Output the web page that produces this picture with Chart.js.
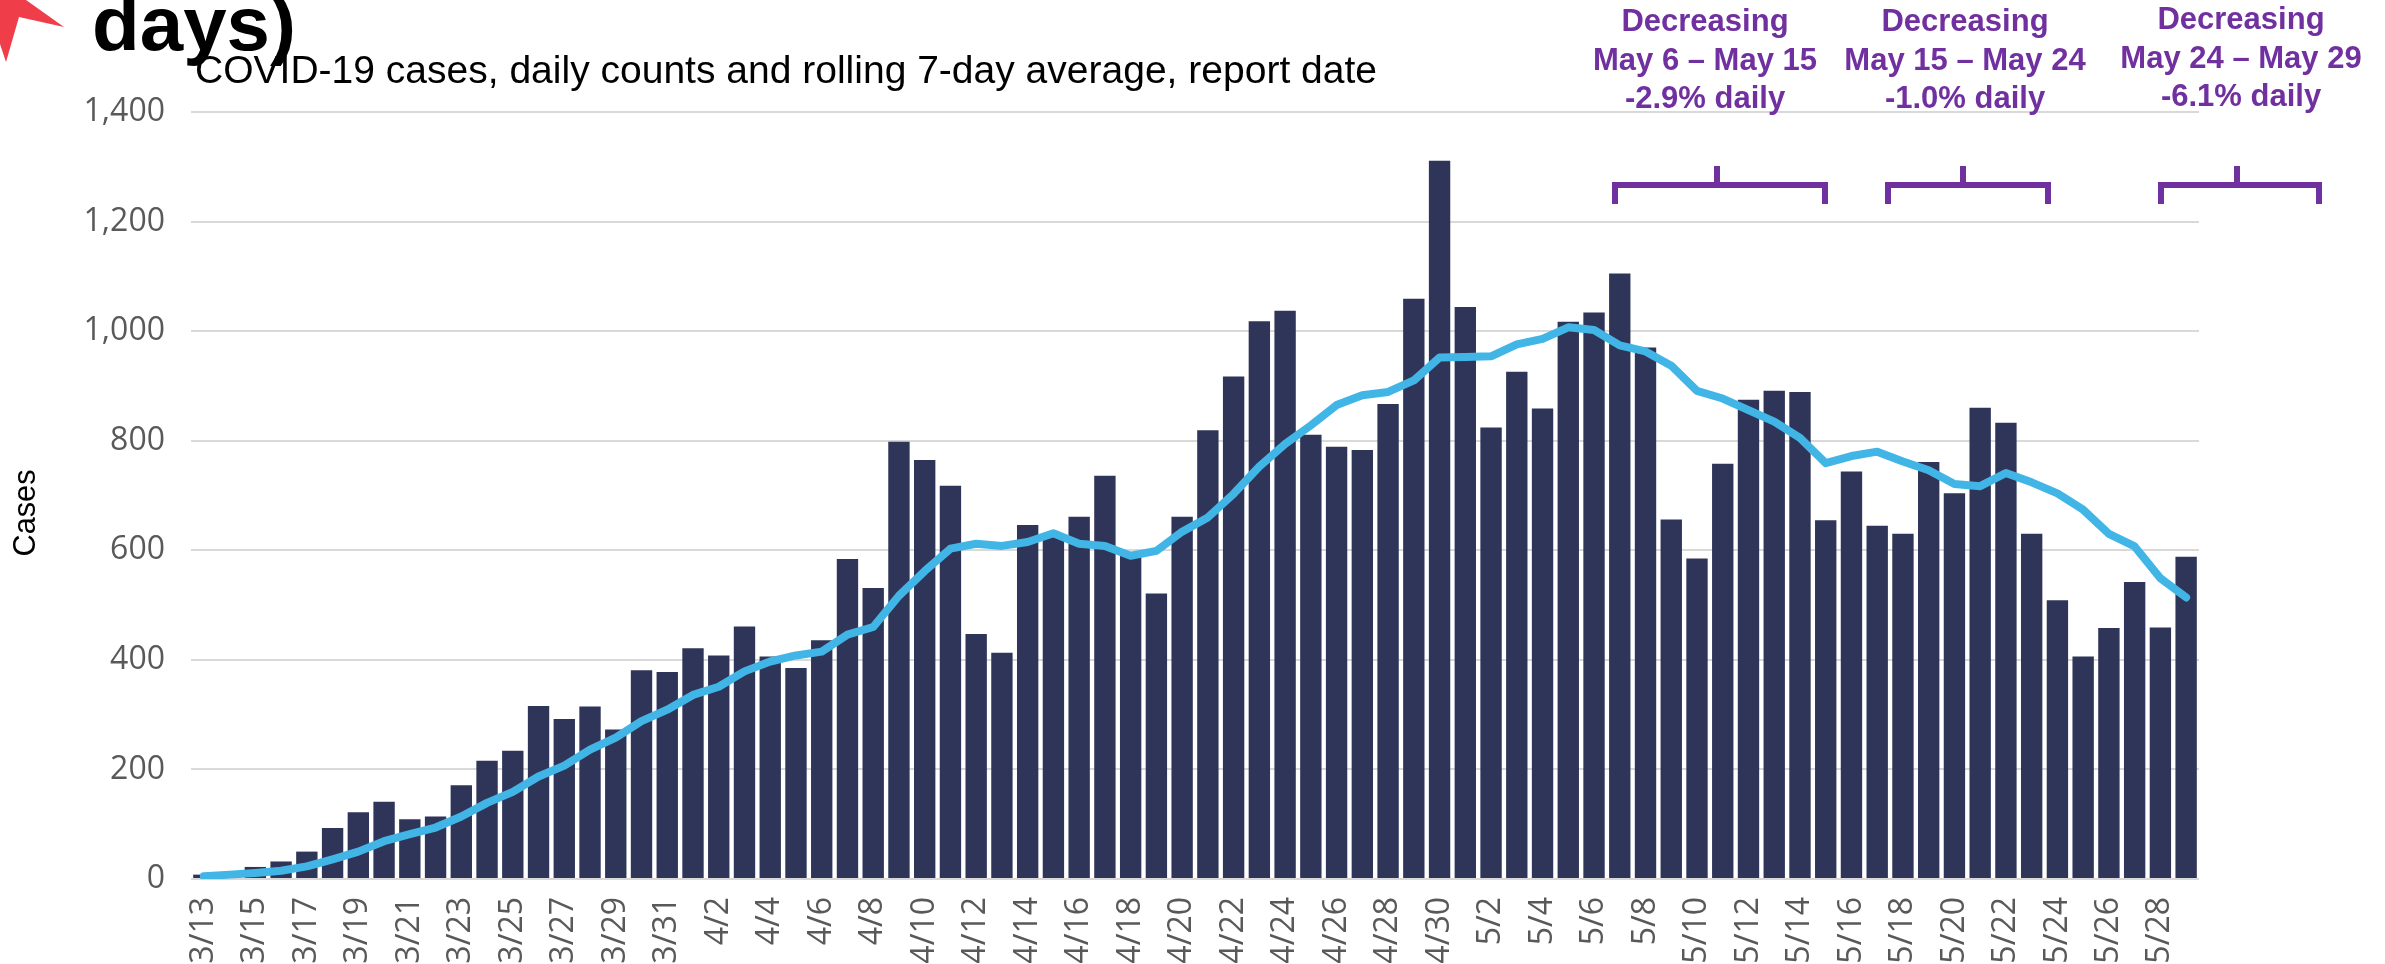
<!DOCTYPE html>
<html>
<head>
<meta charset="utf-8">
<script src="https://cdn.jsdelivr.net/npm/chart.js@4.4.1/dist/chart.umd.min.js"></script>
<style>
  html, body { margin: 0; padding: 0; background: #ffffff; }
  #wrap { width: 2385px; height: 964px; position: relative; overflow: hidden; }
</style>
</head>
<body>
<div id="wrap"><canvas id="c" width="2385" height="964"></canvas></div>
<script>
// ---- Data ----
const dates = [
  '3/13','3/14','3/15','3/16','3/17','3/18','3/19','3/20','3/21','3/22','3/23','3/24','3/25','3/26','3/27','3/28','3/29','3/30','3/31',
  '4/1','4/2','4/3','4/4','4/5','4/6','4/7','4/8','4/9','4/10','4/11','4/12','4/13','4/14','4/15','4/16','4/17','4/18','4/19','4/20',
  '4/21','4/22','4/23','4/24','4/25','4/26','4/27','4/28','4/29','4/30',
  '5/1','5/2','5/3','5/4','5/5','5/6','5/7','5/8','5/9','5/10','5/11','5/12','5/13','5/14','5/15','5/16','5/17','5/18','5/19','5/20',
  '5/21','5/22','5/23','5/24','5/25','5/26','5/27','5/28','5/29'
];
const dailyCases = [
  8, 7, 22, 32, 50, 93, 122, 141, 109, 114, 171, 216, 234, 316, 292, 315, 273, 381, 378,
  421, 408, 461, 406, 385, 436, 584, 531, 798, 765, 718, 447, 413, 646, 630, 661, 736, 592, 521, 661,
  819, 917, 1018, 1037, 811, 789, 783, 867, 1059, 1311,
  1044, 824, 926, 859, 1017, 1034, 1105, 970, 656, 585, 758, 875, 891, 889, 655, 744, 645, 630, 761, 704,
  860, 833, 630, 509, 406, 458, 542, 459, 588
];
const rollingAvg = [
  5, 8, 11, 15, 23, 36, 50, 69, 82, 94, 114, 139, 159, 187, 207, 236, 258, 288, 309,
  336, 351, 379, 397, 408, 415, 446, 460, 517, 562, 603, 612, 608, 615, 631, 612, 608, 590, 599, 634,
  660, 703, 753, 794, 828, 865, 883, 889, 910, 952,
  953, 954, 976, 986, 1007, 1002, 974, 963, 937, 891, 877, 856, 835, 805, 759, 772, 780, 762, 746, 721,
  717, 741, 724, 704, 674, 630, 607, 549, 514
];
const yTicks = [0, 200, 400, 600, 800, 1000, 1200, 1400];
const titleText = 'days)';
const subtitleText = 'COVID-19 cases, daily counts and rolling 7-day average, report date';
const yAxisTitle = 'Cases';
const trendHeads = ['Decreasing', 'Decreasing', 'Decreasing'];
const trendRanges = ['May 6 \u2013 May 15', 'May 15 \u2013 May 24', 'May 24 \u2013 May 29'];
const trendRates = ['-2.9% daily', '-1.0% daily', '-6.1% daily'];

// ---- Styles ----
const BAR_COLOR = '#2f3558';
const LINE_COLOR = '#41b6e6';
const GRID_COLOR = '#d9d9d9';
const TICK_COLOR = '#595959';
const PURPLE = '#7030a0';

function fitText(ctx, text, x, y, width, align) {
  const w = ctx.measureText(text).width;
  const s = width / w;
  ctx.save();
  let left = x;
  if (align === 'center') left = x - width / 2;
  ctx.translate(left, y);
  ctx.scale(s, 1);
  ctx.textAlign = 'left';
  ctx.fillText(text, 0, 0);
  ctx.restore();
}

const decorPlugin = {
  id: 'decor',
  afterDraw(chart) {
    const ctx = chart.ctx;
    ctx.save();
    // red star fragment (top-left decoration)
    ctx.fillStyle = '#ef3e4a';
    ctx.beginPath();
    ctx.moveTo(0, 0);
    ctx.lineTo(26, 0);
    ctx.lineTo(64, 27);
    ctx.lineTo(19, 17);
    ctx.lineTo(6, 62);
    ctx.lineTo(0, 44);
    ctx.closePath();
    ctx.fill();

    // Title fragment
    ctx.fillStyle = '#000000';
    ctx.textBaseline = 'alphabetic';
    ctx.font = 'bold 76px "Liberation Sans", Arial, sans-serif';
    fitText(ctx, titleText, 92, 50, 204, 'left');

    // Subtitle
    ctx.font = '38px "Liberation Sans", Arial, sans-serif';
    fitText(ctx, subtitleText, 195, 83, 1182, 'left');

    // Y axis title
    ctx.save();
    ctx.translate(35, 513);
    ctx.rotate(-Math.PI / 2);
    ctx.font = '31px "Liberation Sans", Arial, sans-serif';
    ctx.fillStyle = '#000000';
    fitText(ctx, yAxisTitle, 0, 0, 87, 'center');
    ctx.restore();

    // Trend annotations
    const centers = [1705, 1965, 2241];
    const baseY = [31, 31, 29];
    ctx.fillStyle = PURPLE;
    ctx.font = 'bold 31px "Liberation Sans", Arial, sans-serif';
    ctx.textAlign = 'center';
    for (let k = 0; k < 3; k++) {
      ctx.fillText(trendHeads[k], centers[k], baseY[k]);
      ctx.fillText(trendRanges[k], centers[k], baseY[k] + 38.5);
      ctx.fillText(trendRates[k], centers[k], baseY[k] + 77);
    }

    // Brackets
    const brackets = [[1615, 1825, 1717], [1888, 2048, 1963], [2161, 2319, 2237]];
    ctx.strokeStyle = PURPLE;
    ctx.lineWidth = 6;
    ctx.lineJoin = 'miter';
    ctx.lineCap = 'butt';
    brackets.forEach(([l, r, c]) => {
      ctx.beginPath();
      ctx.moveTo(l, 204);
      ctx.lineTo(l, 185);
      ctx.lineTo(r, 185);
      ctx.lineTo(r, 204);
      ctx.stroke();
      ctx.beginPath();
      ctx.moveTo(c, 185);
      ctx.lineTo(c, 166);
      ctx.stroke();
    });
    ctx.restore();
  }
};

new Chart(document.getElementById('c'), {
  data: {
    labels: dates,
    datasets: [
      {
        type: 'line',
        label: 'Rolling 7-day average',
        data: rollingAvg,
        borderColor: LINE_COLOR,
        borderWidth: 8,
        pointRadius: 0,
        tension: 0,
        borderCapStyle: 'round',
        borderJoinStyle: 'round',
        order: 0
      },
      {
        type: 'bar',
        label: 'Daily cases',
        data: dailyCases,
        backgroundColor: BAR_COLOR,
        barPercentage: 0.83,
        categoryPercentage: 1.0,
        order: 1
      }
    ]
  },
  options: {
    responsive: false,
    animation: false,
    devicePixelRatio: 1,
    layout: { padding: { top: 112, right: 186, left: 0, bottom: 0 } },
    plugins: {
      legend: { display: false },
      tooltip: { enabled: false },
      title: { display: false }
    },
    scales: {
      x: {
        grid: { display: false, drawTicks: false },
        border: { display: false },
        ticks: {
          autoSkip: false,
          maxRotation: 90,
          minRotation: 90,
          padding: 18,
          color: TICK_COLOR,
          font: { family: '"Open Sans", "Noto Sans", sans-serif', size: 32 },
          callback: function (value, index) { return index % 2 === 0 ? dates[index] : ''; }
        },
        afterFit(scale) { scale.height = 85; }
      },
      y: {
        min: 0,
        max: 1400,
        afterBuildTicks(scale) { scale.ticks = yTicks.map(v => ({ value: v })); },
        grid: { color: GRID_COLOR, lineWidth: 2, drawTicks: false },
        border: { display: false },
        ticks: {
          padding: 26,
          color: TICK_COLOR,
          font: { family: '"Open Sans", "Noto Sans", sans-serif', size: 32 },
          callback: v => v.toLocaleString('en-US')
        },
        afterFit(scale) { scale.width = 191; }
      }
    }
  },
  plugins: [decorPlugin]
});
</script>
</body>
</html>
